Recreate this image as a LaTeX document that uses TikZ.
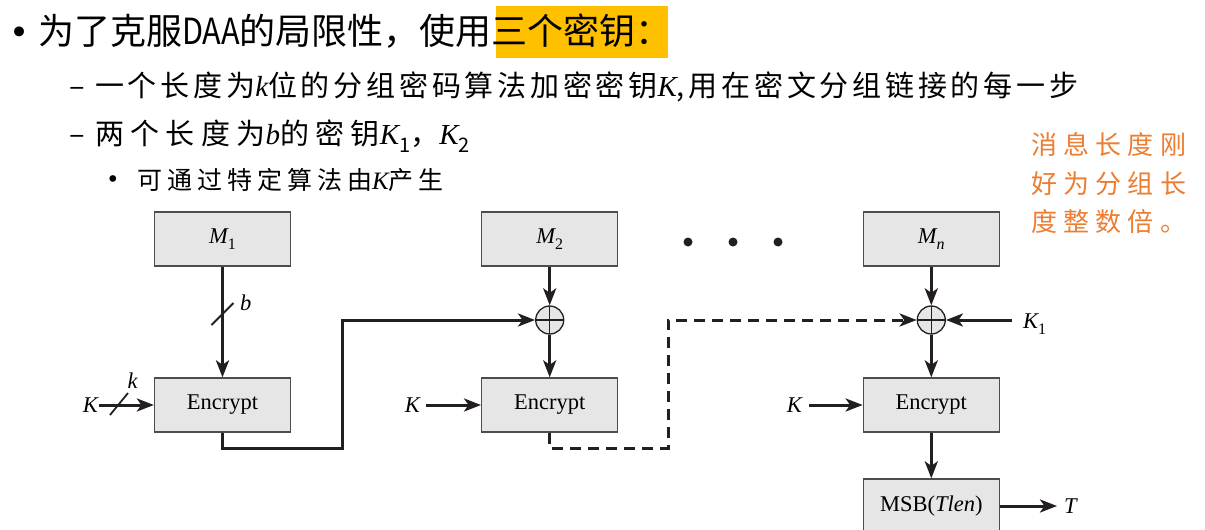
\documentclass[tikz,border=0pt]{standalone}
\usepackage{graphicx}
\usepackage{fontspec}
\usetikzlibrary{arrows.meta,calc}
\newfontfamily\cjk{Noto Sans CJK SC}
\newfontfamily\cjkwide[LetterSpace=22]{Noto Sans CJK SC}
\newfontfamily\cjksmall[LetterSpace=20]{Noto Sans CJK SC}
\newfontfamily\cjkmid[LetterSpace=13]{Noto Sans CJK SC}
\newfontfamily\cjknote[LetterSpace=24]{Noto Sans CJK SC}
\newfontfamily\tms{Liberation Serif}
\newfontfamily\sym{DejaVu Sans}
% italic variable set inside Chinese text
\newcommand{\vr}[1]{{\tms\itshape #1}}
% lowered index in a chosen size
\newcommand{\idx}[2]{\raisebox{-0.28em}{\fontsize{#1}{#1}\selectfont #2}}
\definecolor{gold}{HTML}{FFC000}
\definecolor{accent}{HTML}{ED7D31}
\definecolor{ink}{HTML}{231F20}
\definecolor{boxfill}{HTML}{E6E6E6}
\definecolor{boxedge}{HTML}{4D4D4D}
\tikzset{
  headtxt/.style={inner sep=0pt, font=\cjk\fontsize{36}{40}\selectfont},
  subtxt/.style={inner sep=0pt, font=\cjkwide\fontsize{29}{35}\selectfont},
  smalltxt/.style={inner sep=0pt, font=\cjksmall\fontsize{25}{30}\selectfont},
  notetxt/.style={inner sep=0pt, text=accent, font=\cjknote\fontsize{26}{30}\selectfont},
  blk/.style={draw=boxedge, fill=boxfill, line width=1.3pt, minimum width=136pt,
    minimum height=54pt, inner sep=0pt, font=\tms\fontsize{22.5}{27}\selectfont},
  xorop/.style={circle, draw=ink, fill=boxfill, line width=1.3pt, minimum size=28pt,
    inner sep=0pt, path picture={\draw[ink,line width=1.1pt]
      (path picture bounding box.north) -- (path picture bounding box.south)
      (path picture bounding box.west) -- (path picture bounding box.east);}},
  wire/.style={draw=ink, line width=3pt},
  flow/.style={wire, -{Stealth[length=17pt,width=13pt,inset=4.5pt]}},
  lbl/.style={inner sep=0pt, font=\tms\itshape\fontsize{22.5}{27}\selectfont},
  dotmark/.style={circle, fill=ink, minimum size=9pt, inner sep=0pt},
}
\begin{document}
\begin{tikzpicture}[x=1pt,y=-1pt]
\useasboundingbox (0,0) rectangle (1205,530);
\fill[white] (0,0) rectangle (1205,530);

% heading and bullet list
\fill[gold] (496,6) rectangle (668,58);
\node[inner sep=0pt, font=\sym\fontsize{34}{40}\selectfont, anchor=base] (dot0) at (20,44) {•};
\node[headtxt, anchor=base west] (title) at (38,44)
  {为了克服\scalebox{0.85}[1]{DAA}的局限性，使用三个密钥：};
\node[subtxt, anchor=base] (dash1) at (77,96) {–};
\node[subtxt, font=\cjkmid\fontsize{29}{35}\selectfont, anchor=base west] (line1) at (95,96)
  {一个长度为\vr{k}位的分组密码算法加密密钥\vr{K},用在密文分组链接的每一步};
\node[subtxt, anchor=base] (dash2) at (77,144) {–};
\node[subtxt, anchor=base west] (line2) at (95,144)
  {两个长度为\vr{b}的密钥\vr{K}\idx{20}{1}，\vr{K}\idx{20}{2}};
\node[inner sep=0pt, font=\sym\fontsize{23}{30}\selectfont, anchor=base] (dot1) at (113,187) {•};
\node[smalltxt, anchor=base west] (line3) at (137,189.5)
  {可通过特定算法由\vr{K}产生};

% side note
\node[notetxt, anchor=base west] (note1) at (1031,154) {消息长度刚};
\node[notetxt, anchor=base west] (note2) at (1031,193) {好为分组长};
\node[notetxt, anchor=base west] (note3) at (1031,231.5) {度整数倍。};

% blocks
\node[blk] (m1) at (222.5,239) {{\itshape M}\idx{16}{1}};
\node[blk] (e1) at (222.5,405) {Encrypt};
\node[blk] (m2) at (549.7,239) {{\itshape M}\idx{16}{2}};
\node[xorop] (x2) at (549.7,320) {};
\node[blk] (e2) at (549.7,405) {Encrypt};
\node[blk] (mn) at (931.3,239) {{\itshape M}\idx{16}{\itshape n}};
\node[xorop] (xn) at (931.3,320) {};
\node[blk] (en) at (931.3,405) {Encrypt};
\node[blk] (msb) at (931.3,506) {MSB(\textit{Tlen})};

\node[dotmark] (d1) at (688,242) {};
\node[dotmark] (d2) at (733,242) {};
\node[dotmark] (d3) at (778,242) {};

% key inputs
\node[lbl, anchor=east] (ka) at (98,405) {K};
\node[lbl, anchor=east] (kb) at (420,405) {K};
\node[lbl, anchor=east] (kc) at (802,405) {K};
\node[lbl, anchor=base west] (k1) at (1023,328) {K\idx{16}{\upshape 1}};
\node[lbl, anchor=west] (tout) at (1064,506) {T};
\node[lbl, anchor=base west] (blab) at (240,310) {b};
\node[lbl, anchor=base] (klab) at (132.5,388) {k};

% connectors
\draw[flow] (m1) -- (e1);
\coordinate (sb) at (222.5,314);
\draw[wire, line width=1.8pt] (sb) ++(-11,11) -- ++(22,-22);
\draw[flow, shorten <=1pt] (ka) -- (e1);
\coordinate (sk) at (119,404);
\draw[wire, line width=1.8pt] (sk) ++(-9,11) -- ++(18,-22);

\draw[flow] (m2) -- (x2);
\draw[flow] (x2) -- (e2);
\draw[flow, shorten <=6pt] (kb) -- (e2);
\coordinate (j1) at (342,448);
\draw[flow] (e1.south) |- (j1) |- (x2.west);

\draw[flow] (mn) -- (xn);
\draw[flow] (xn) -- (en);
\draw[flow, shorten <=7pt] (kc) -- (en);
\draw[flow, shorten <=11pt] (k1.west |- xn) -- (xn);
\coordinate (j2) at (668,448);
\draw[flow, dash pattern=on 11pt off 7pt] (e2.south) |- (j2) |- (xn.west);

\draw[flow] (en) -- (msb);
\draw[flow, shorten >=7pt] (msb) -- (tout);
\end{tikzpicture}
\end{document}
